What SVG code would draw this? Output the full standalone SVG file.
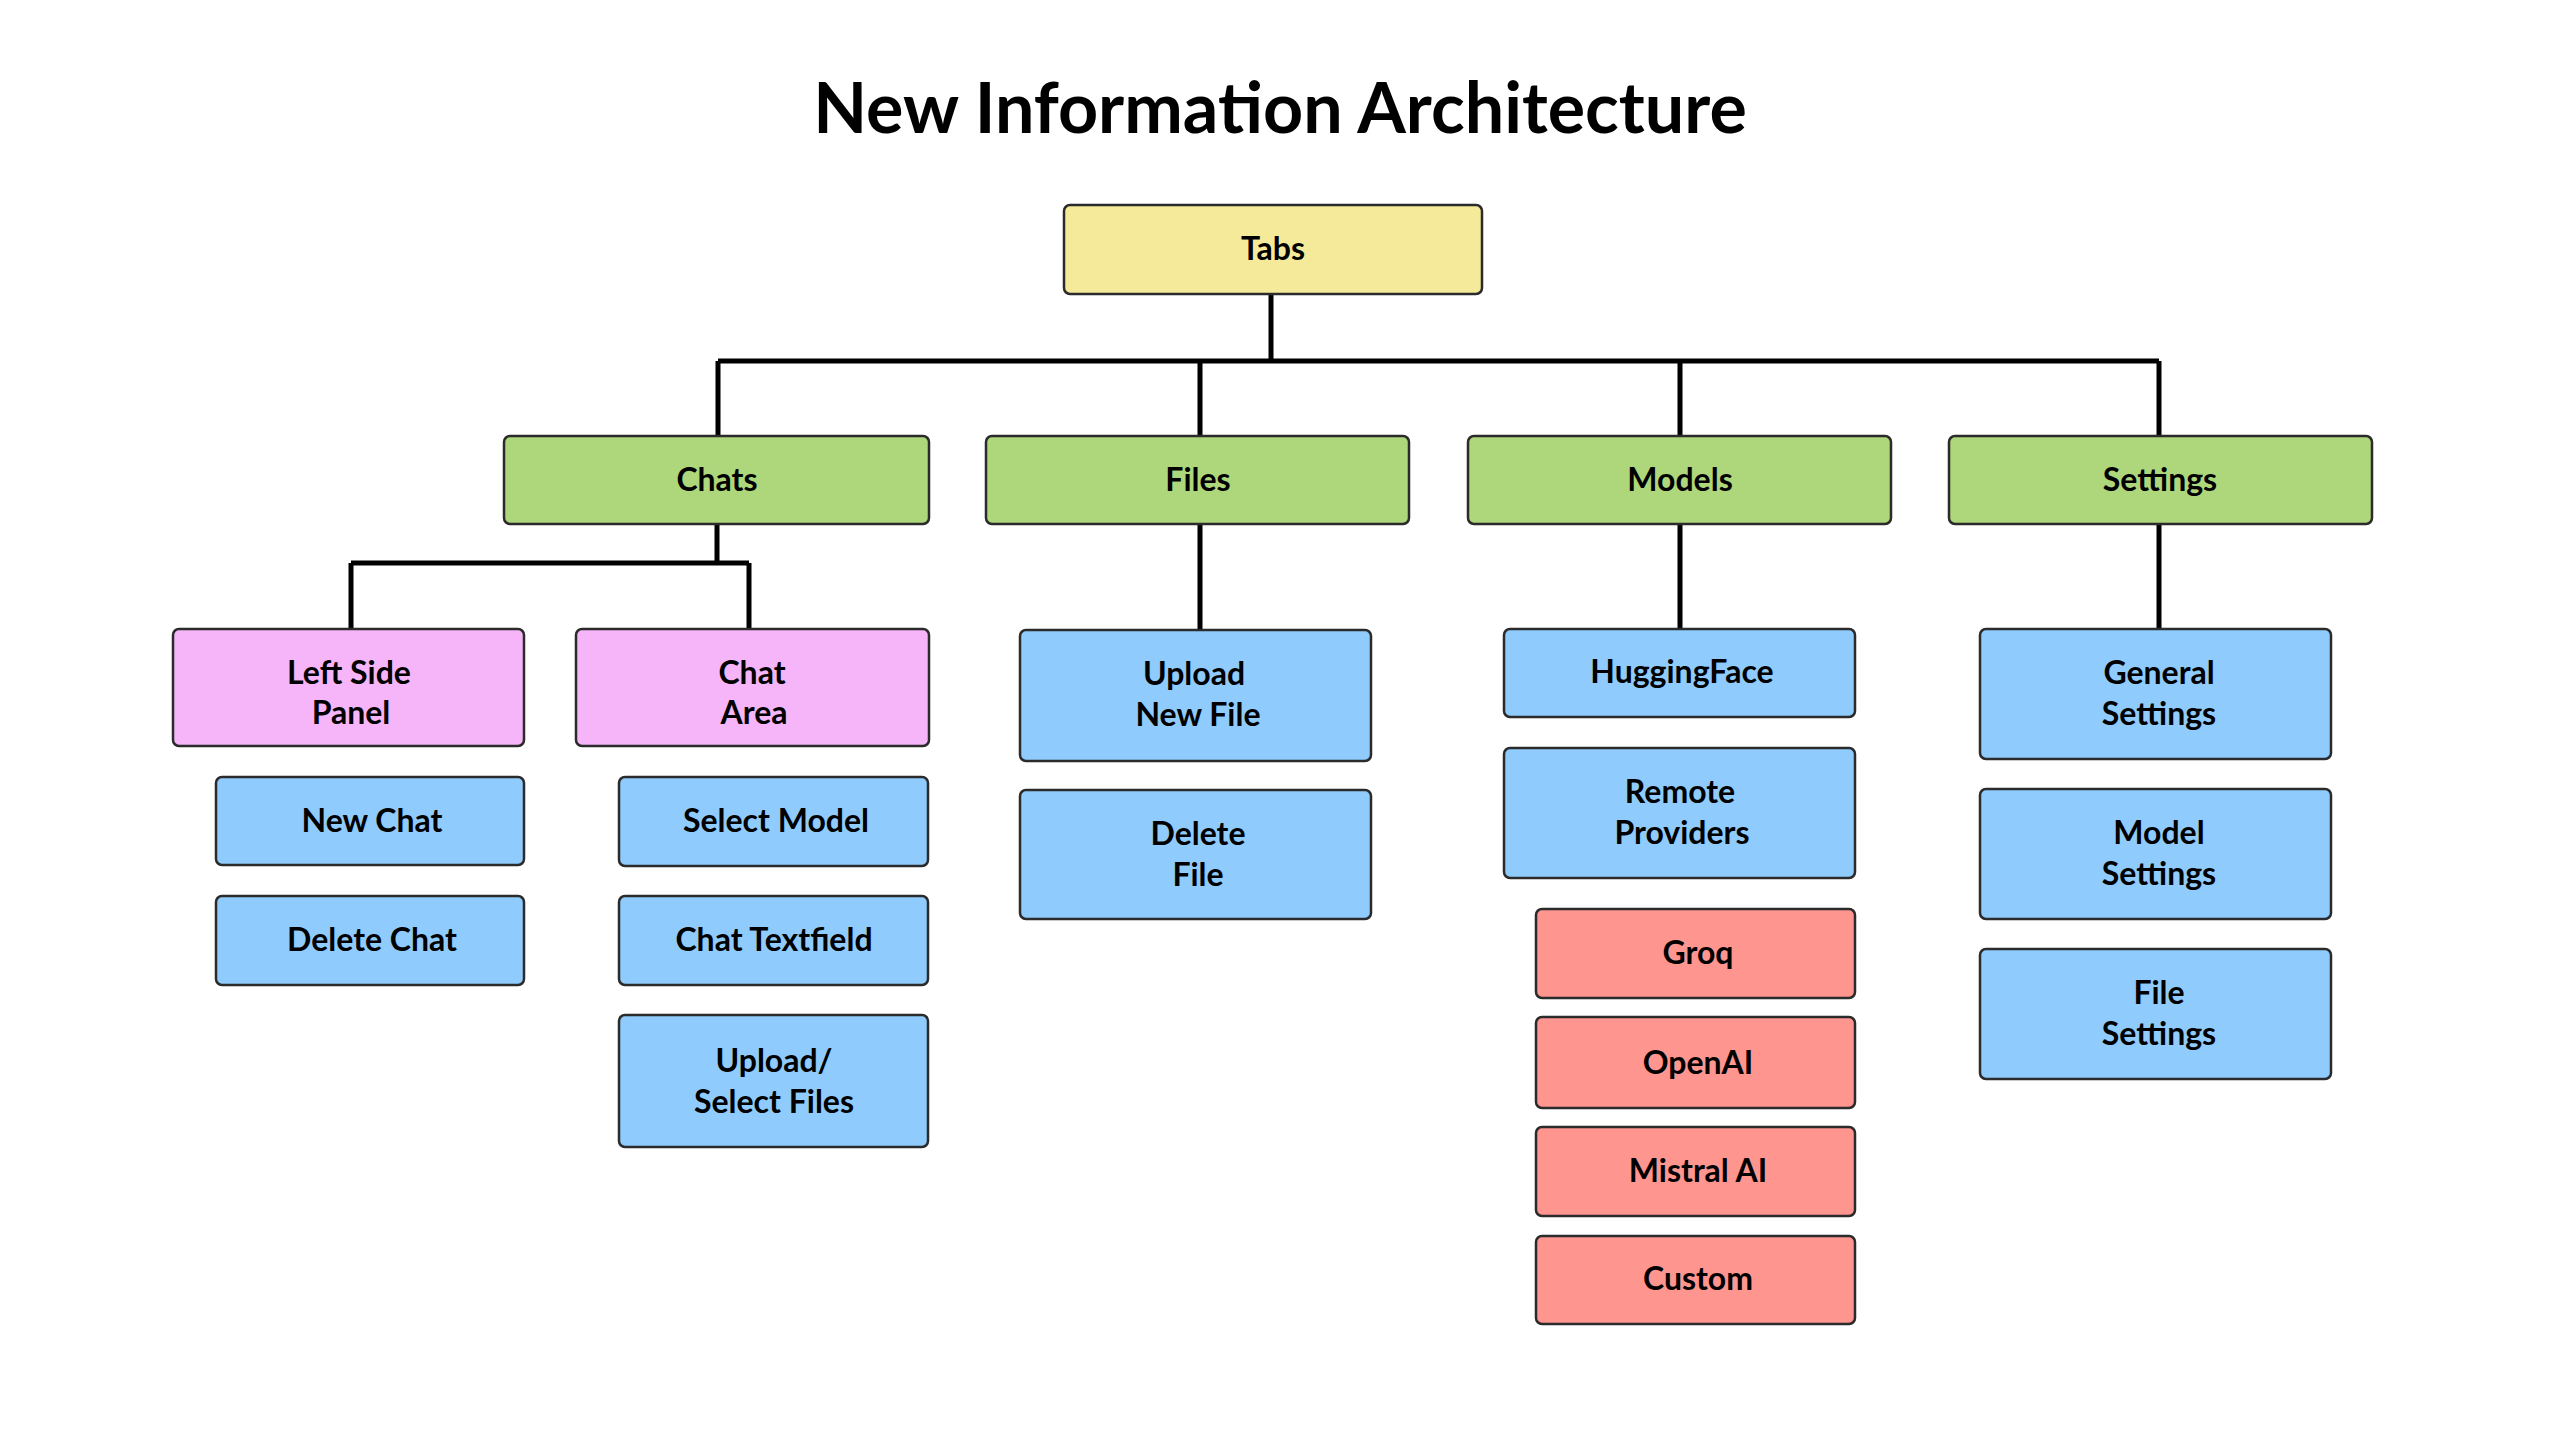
<svg xmlns="http://www.w3.org/2000/svg" width="2560" height="1429" viewBox="0 0 2560 1429">
<style>
.box{stroke:#2b2b2b;stroke-width:2.5}
.y{fill:#F4EA9A}.g{fill:#AED67A}.p{fill:#F6B5F9}.b{fill:#8FCBFD}.r{fill:#FF958F}
text{font-family:Lato,"Liberation Sans",sans-serif;font-weight:700;fill:#000;text-anchor:middle}
.t{font-size:32px}
.title{font-size:70px}
.c{stroke:#000;stroke-width:5;fill:none}
</style>
<rect width="2560" height="1429" fill="#fff"/>
<text class="title" x="1280" y="133">New Information Architecture</text>
<g id="connectors">
<path class="c" d="M1271 294V361M718 361H2159M718 361V436M1200 361V436M1680 361V436M2159 361V436"/>
<path class="c" d="M717 524V563M351 563H749M351 563V629M749 563V629"/>
<path class="c" d="M1200 524V630M1680 524V629M2159 524V629"/>
</g>
<g id="tabs"><rect class="box y" x="1064" y="205" width="418" height="89" rx="6"/><text class="t" x="1273" y="260">Tabs</text></g>
<g id="chats"><rect class="box g" x="504" y="436" width="425" height="88" rx="6"/><text class="t" x="717" y="491">Chats</text></g>
<g id="files"><rect class="box g" x="986" y="436" width="423" height="88" rx="6"/><text class="t" x="1198" y="491">Files</text></g>
<g id="models"><rect class="box g" x="1468" y="436" width="423" height="88" rx="6"/><text class="t" x="1680" y="491">Models</text></g>
<g id="settings"><rect class="box g" x="1949" y="436" width="423" height="88" rx="6"/><text class="t" x="2160" y="491">Settings</text></g>
<g id="left-side-panel"><rect class="box p" x="173" y="629" width="351" height="117" rx="6"/><text class="t" x="349" y="684">Left Side</text><text class="t" x="351" y="724">Panel</text></g>
<g id="chat-area"><rect class="box p" x="576" y="629" width="353" height="117" rx="6"/><text class="t" x="752" y="684">Chat</text><text class="t" x="754" y="724">Area</text></g>
<g id="new-chat"><rect class="box b" x="216" y="777" width="308" height="88" rx="6"/><text class="t" x="372" y="832">New Chat</text></g>
<g id="delete-chat"><rect class="box b" x="216" y="896" width="308" height="89" rx="6"/><text class="t" x="372" y="951">Delete Chat</text></g>
<g id="select-model"><rect class="box b" x="619" y="777" width="309" height="89" rx="6"/><text class="t" x="776" y="832">Select Model</text></g>
<g id="chat-textfield"><rect class="box b" x="619" y="896" width="309" height="89" rx="6"/><text class="t" x="774" y="951">Chat Textfield</text></g>
<g id="upload-select-files"><rect class="box b" x="619" y="1015" width="309" height="132" rx="6"/><text class="t" x="774" y="1072">Upload/</text><text class="t" x="774" y="1113">Select Files</text></g>
<g id="upload-new-file"><rect class="box b" x="1020" y="630" width="351" height="131" rx="6"/><text class="t" x="1194" y="685">Upload</text><text class="t" x="1198" y="726">New File</text></g>
<g id="delete-file"><rect class="box b" x="1020" y="790" width="351" height="129" rx="6"/><text class="t" x="1198" y="845">Delete</text><text class="t" x="1198" y="886">File</text></g>
<g id="huggingface"><rect class="box b" x="1504" y="629" width="351" height="88" rx="6"/><text class="t" x="1682" y="683">HuggingFace</text></g>
<g id="remote-providers"><rect class="box b" x="1504" y="748" width="351" height="130" rx="6"/><text class="t" x="1680" y="803">Remote</text><text class="t" x="1682" y="844">Providers</text></g>
<g id="groq"><rect class="box r" x="1536" y="909" width="319" height="89" rx="6"/><text class="t" x="1698" y="964">Groq</text></g>
<g id="openai"><rect class="box r" x="1536" y="1017" width="319" height="91" rx="6"/><text class="t" x="1698" y="1074">OpenAI</text></g>
<g id="mistral-ai"><rect class="box r" x="1536" y="1127" width="319" height="89" rx="6"/><text class="t" x="1698" y="1182">Mistral AI</text></g>
<g id="custom"><rect class="box r" x="1536" y="1236" width="319" height="88" rx="6"/><text class="t" x="1698" y="1290">Custom</text></g>
<g id="general-settings"><rect class="box b" x="1980" y="629" width="351" height="130" rx="6"/><text class="t" x="2159" y="684">General</text><text class="t" x="2159" y="725">Settings</text></g>
<g id="model-settings"><rect class="box b" x="1980" y="789" width="351" height="130" rx="6"/><text class="t" x="2159" y="844">Model</text><text class="t" x="2159" y="885">Settings</text></g>
<g id="file-settings"><rect class="box b" x="1980" y="949" width="351" height="130" rx="6"/><text class="t" x="2159" y="1004">File</text><text class="t" x="2159" y="1045">Settings</text></g>
</svg>
